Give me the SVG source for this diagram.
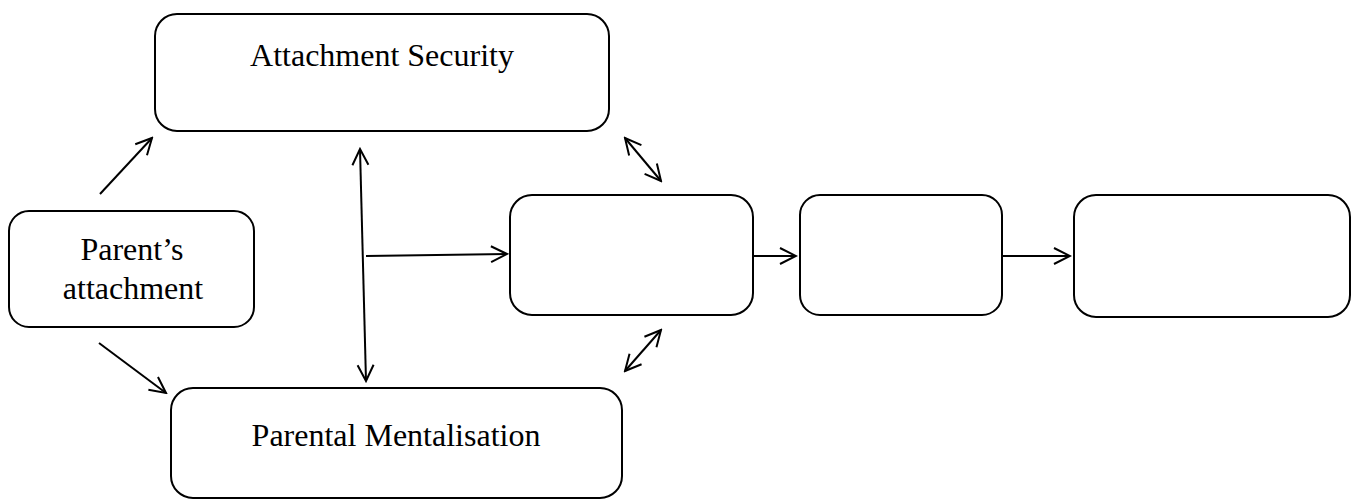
<svg xmlns="http://www.w3.org/2000/svg" width="1352" height="503" viewBox="0 0 1352 503">
<style>
.box{fill:#fff;stroke:#000;stroke-width:2}
.t{font-family:"Liberation Serif",serif;font-size:32px;fill:#000;text-anchor:middle}
.c{stroke:#000;stroke-width:2;fill:none}
</style>
<defs>
<marker id="ah" viewBox="0 0 20 20" refX="18" refY="10" markerWidth="20" markerHeight="20" markerUnits="userSpaceOnUse" orient="auto-start-reverse">
<path d="M2,2 L18,10 L2,18" fill="none" stroke="#000" stroke-width="2"/>
</marker>
</defs>
<rect width="1352" height="503" fill="#fff"/>
<g id="attachment-security"><rect class="box" x="155" y="14" width="454" height="117" rx="22"/><text class="t" x="382" y="66">Attachment Security</text></g>
<g id="parents-attachment"><rect class="box" x="9" y="211" width="245" height="116" rx="20"/><text class="t" x="132" y="260">Parent’s</text><text class="t" x="133" y="299">attachment</text></g>
<g id="parental-mentalisation"><rect class="box" x="171" y="388" width="451" height="110" rx="22"/><text class="t" x="396" y="446">Parental Mentalisation</text></g>
<g id="box-center"><rect class="box" x="510" y="195" width="243" height="120" rx="22"/></g>
<g id="box-2"><rect class="box" x="800" y="195" width="202" height="120" rx="20"/></g>
<g id="box-3"><rect class="box" x="1074" y="195" width="276" height="122" rx="22"/></g>
<g id="connectors">
<line class="c" x1="100" y1="194" x2="152" y2="138" marker-end="url(#ah)"/>
<line class="c" x1="99" y1="343" x2="166" y2="393" marker-end="url(#ah)"/>
<line class="c" x1="360" y1="149" x2="366" y2="381" marker-start="url(#ah)" marker-end="url(#ah)"/>
<line class="c" x1="366" y1="256" x2="507" y2="254" marker-end="url(#ah)"/>
<line class="c" x1="625" y1="138" x2="661" y2="181" marker-start="url(#ah)" marker-end="url(#ah)"/>
<line class="c" x1="661" y1="330" x2="625" y2="371" marker-start="url(#ah)" marker-end="url(#ah)"/>
<line class="c" x1="754" y1="256" x2="796" y2="256" marker-end="url(#ah)"/>
<line class="c" x1="1002" y1="256" x2="1070" y2="256" marker-end="url(#ah)"/>
</g>
</svg>
